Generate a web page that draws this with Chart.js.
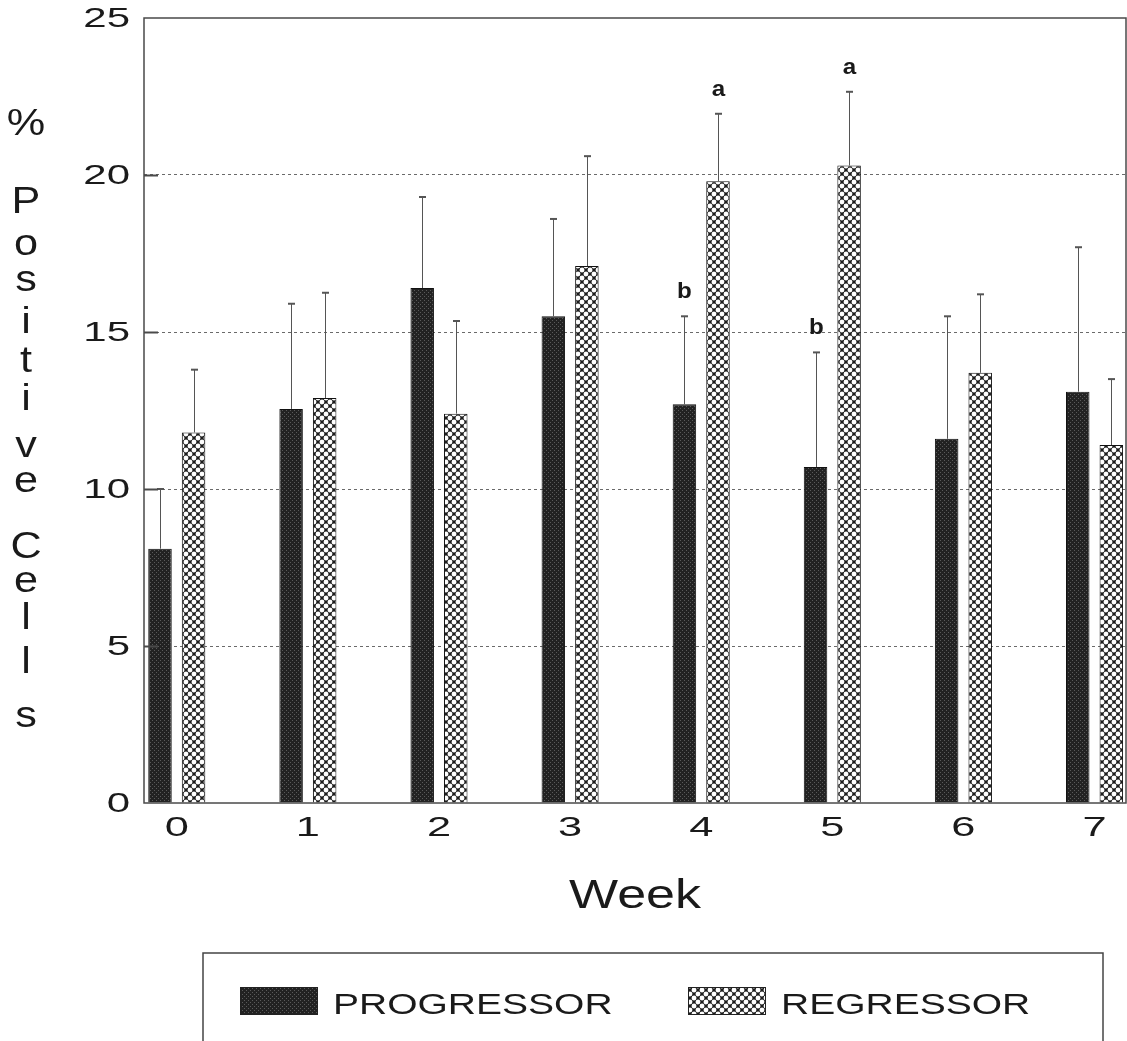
<!DOCTYPE html>
<html lang="en">
<head>
<meta charset="UTF-8">
<title>Positive Cells by Week</title>
<script src="https://cdn.jsdelivr.net/npm/chart.js"></script>
<style>
  html, body { margin: 0; padding: 0; background: #fff; }
  canvas { display: block; }
</style>
</head>
<body>
<canvas id="cellChart" width="1127" height="1041"></canvas>
<script>
// weekly means and error (one SE) for each group
const weeks = [0, 1, 2, 3, 4, 5, 6, 7];
const progressor = [8.1, 12.55, 16.4, 15.5, 12.7, 10.7, 11.6, 13.1];
const progressorErr = [1.9, 3.35, 2.9, 3.1, 2.8, 3.65, 3.9, 4.6];
const regressor = [11.8, 12.9, 12.4, 17.1, 19.8, 20.3, 13.7, 11.4];
const regressorErr = [2.0, 3.35, 2.95, 3.5, 2.15, 2.35, 2.5, 2.1];
// significance letters above the error bars
const progressorMarks = ['', '', '', '', 'b', 'b', '', ''];
const regressorMarks = ['', '', '', '', 'a', 'a', '', ''];
const yTicks = [0, 5, 10, 15, 20, 25];
const yTitle = '% Positive Cells';
const xTitle = 'Week';

const FONT = "'Liberation Sans', Arial, sans-serif";
const INK = '#1a1a1a';

const canvas = document.getElementById('cellChart');
const ctx = canvas.getContext('2d');

function makePattern(w, h, draw) {
    const c = document.createElement('canvas');
    c.width = w; c.height = h;
    draw(c.getContext('2d'));
    return ctx.createPattern(c, 'repeat');
}

// dense dark screen
const darkFill = makePattern(4, 4, g => {
    g.fillStyle = '#222';
    g.fillRect(0, 0, 4, 4);
    g.fillStyle = '#5a5a5a';
    g.fillRect(0, 0, 1, 1);
    g.fillRect(2, 2, 1, 1);
});

// white dots on a black crosshatch
const lightFill = makePattern(8, 8, g => {
    g.fillStyle = '#1c1c1c';
    g.fillRect(0, 0, 8, 8);
    g.fillStyle = '#fff';
    [[2, 2], [6, 6]].forEach(([cx, cy]) => {
        for (let dx = -8; dx <= 8; dx += 8) {
            for (let dy = -8; dy <= 8; dy += 8) {
                g.beginPath();
                g.arc(cx + dx, cy + dy, 2.4, 0, Math.PI * 2);
                g.fill();
            }
        }
    });
});

// text in the wide face used by the original figure
function wideText(c, text, x, y, sx, align) {
    c.save();
    c.translate(x, y);
    c.scale(sx, 1);
    c.textAlign = align;
    c.fillText(text, 0, 0);
    c.restore();
}

const decorations = {
    id: 'decorations',
    afterDatasetsDraw(chart) {
        const c = chart.ctx;
        const yScale = chart.scales.y;
        const groups = [
            [progressor, progressorErr, progressorMarks],
            [regressor, regressorErr, regressorMarks]
        ];
        c.save();
        groups.forEach(([vals, errs, marks], d) => {
            chart.getDatasetMeta(d).data.forEach((bar, i) => {
                const top = yScale.getPixelForValue(vals[i] + errs[i]);
                const bx = Math.round(bar.x) + 0.5;
                c.strokeStyle = '#555';
                c.lineWidth = 1;
                c.beginPath();
                c.moveTo(bx, bar.y);
                c.lineTo(bx, top);
                c.stroke();
                c.lineWidth = 2;
                c.beginPath();
                c.moveTo(bx - 3.5, top);
                c.lineTo(bx + 3.5, top);
                c.stroke();
                if (marks[i]) {
                    c.fillStyle = INK;
                    c.font = 'bold 22px ' + FONT;
                    c.textBaseline = 'alphabetic';
                    wideText(c, marks[i], bx, top - 18, 1.1, 'center');
                }
            });
        });
        c.restore();
    },
    afterDraw(chart) {
        const c = chart.ctx;
        const area = chart.chartArea;
        const {x: xScale, y: yScale} = chart.scales;
        c.save();

        // plot frame and short inner ticks
        c.strokeStyle = '#4a4a4a';
        c.lineWidth = 1.5;
        c.strokeRect(area.left, area.top, area.right - area.left, area.bottom - area.top);
        c.lineWidth = 2;
        yTicks.slice(1, -1).forEach(v => {
            const py = Math.round(yScale.getPixelForValue(v)) + 0.5;
            c.beginPath();
            c.moveTo(area.left, py);
            c.lineTo(area.left + 14, py);
            c.stroke();
        });

        // tick labels
        c.fillStyle = INK;
        c.font = '28px ' + FONT;
        c.textBaseline = 'middle';
        yTicks.forEach(v => {
            wideText(c, String(v), area.left - 14, yScale.getPixelForValue(v) + 1, 1.5, 'right');
        });
        weeks.forEach(w => {
            wideText(c, String(w), xScale.getPixelForValue(w), area.bottom + 25, 1.55, 'center');
        });

        // axis titles
        c.textBaseline = 'alphabetic';
        c.font = '40px ' + FONT;
        wideText(c, xTitle, (area.left + area.right) / 2, 908, 1.3, 'center');

        // vertical title, one letter per line
        const baselines = [135, 213, 255, 291, 333, 372, 410, 457, 492, 558, 592, 629, 673, 727];
        const letters = yTitle.replace(/ /g, '').split('');
        c.font = '36px ' + FONT;
        letters.forEach((ch, i) => {
            wideText(c, ch, 26, baselines[i], 1.2, 'center');
        });

        // legend box
        c.strokeStyle = '#444';
        c.lineWidth = 1.5;
        c.strokeRect(203, 953, 900, 120);
        const slots = [240, 688];
        c.font = '30px ' + FONT;
        chart.data.datasets.forEach((ds, i) => {
            c.fillStyle = ds.backgroundColor;
            c.fillRect(slots[i], 987, 78, 28);
            c.strokeStyle = '#222';
            c.lineWidth = 1;
            c.strokeRect(slots[i] + 0.5, 987.5, 77, 27);
            c.fillStyle = INK;
            wideText(c, ds.label, slots[i] + 93, 1014, 1.3, 'left');
        });
        c.restore();
    }
};

new Chart(ctx, {
    type: 'bar',
    data: {
        datasets: [
            {
                label: 'PROGRESSOR',
                data: weeks.map((w, i) => ({x: w, y: progressor[i]})),
                backgroundColor: darkFill,
                borderColor: '#111',
                borderWidth: 1,
                categoryPercentage: 0.512,
                barPercentage: 0.7
            },
            {
                label: 'REGRESSOR',
                data: weeks.map((w, i) => ({x: w, y: regressor[i]})),
                backgroundColor: lightFill,
                borderColor: '#111',
                borderWidth: 1,
                categoryPercentage: 0.512,
                barPercentage: 0.7
            }
        ]
    },
    options: {
        responsive: false,
        animation: false,
        layout: { padding: { top: 18, right: 1, left: 0, bottom: 0 } },
        plugins: {
            legend: { display: false },
            tooltip: { enabled: false }
        },
        scales: {
            x: {
                type: 'linear',
                min: -0.25,
                max: 7.24,
                offset: false,
                ticks: { display: false, stepSize: 1 },
                grid: { display: false, offset: false },
                border: { display: false },
                afterFit: s => { s.height = 238; }
            },
            y: {
                min: 0,
                max: 25,
                ticks: { display: false, stepSize: 5 },
                grid: {
                    color: g => (g.tick.value > 0 && g.tick.value < 25) ? '#6a6a6a' : 'rgba(0,0,0,0)',
                    drawTicks: false,
                    lineWidth: 1
                },
                border: { display: false, dash: [3, 3] },
                afterFit: s => { s.width = 144; }
            }
        }
    },
    plugins: [decorations]
});
</script>
</body>
</html>
